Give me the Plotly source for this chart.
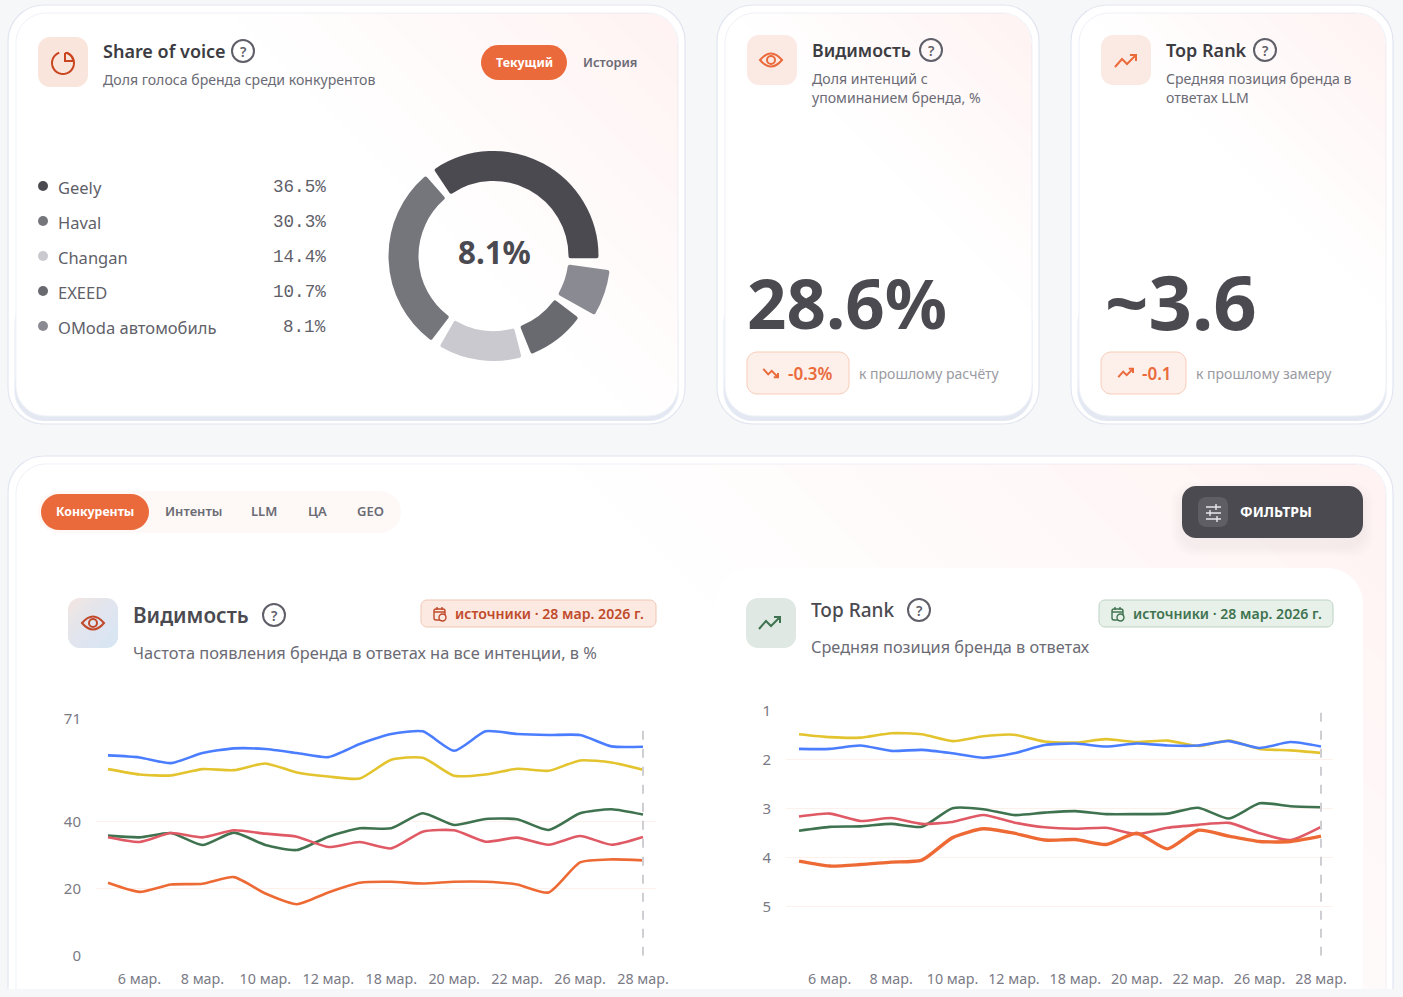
import math
import plotly.graph_objects as go

# ---------- data ----------
brands = ["Geely", "Haval", "Changan", "EXEED", "OModa автомобиль"]
share = [36.5, 30.3, 14.4, 10.7, 8.1]
share_labels = ["36.5%", "30.3%", "14.4%", "10.7%", "8.1%"]
share_colors = ["#4a4a50", "#75767c", "#c9c9cf", "#696a70", "#8a8a92"]

dates = ["5 мар.", "6 мар.", "7 мар.", "8 мар.", "9 мар.", "10 мар.", "11 мар.", "12 мар.", "17 мар.",
         "18 мар.", "19 мар.", "20 мар.", "21 мар.", "22 мар.", "25 мар.", "26 мар.", "27 мар.", "28 мар."]
tick_dates = dates[1::2]

vis_blue = [59.9, 59.3, 57.6, 60.6, 62.0, 61.8, 60.6, 59.4, 63.3, 66.3, 67.1, 61.3, 67.1, 66.3, 66.0, 66.0, 62.6, 62.5]
vis_yellow = [55.8, 54.2, 53.9, 55.8, 55.5, 57.5, 54.8, 53.6, 53.0, 58.6, 59.2, 53.8, 54.2, 55.9, 55.3, 58.4, 57.8, 55.6]
vis_green = [35.9, 35.4, 36.7, 33.1, 36.8, 33.1, 31.6, 35.6, 38.1, 38.1, 42.6, 39.1, 40.9, 40.8, 37.6, 42.6, 43.8, 42.2]
vis_red = [35.4, 34.0, 36.7, 35.4, 37.5, 36.5, 35.6, 32.5, 34.0, 32.1, 37.1, 37.5, 34.1, 35.3, 33.2, 35.8, 33.2, 35.5]
vis_orange = [21.8, 19.1, 21.3, 21.5, 23.5, 18.6, 15.4, 18.9, 21.8, 22.1, 21.6, 22.1, 22.1, 21.3, 18.9, 27.9, 28.8, 28.5]

rank_blue = [1.78, 1.78, 1.71, 1.82, 1.80, 1.87, 1.96, 1.87, 1.70, 1.67, 1.73, 1.67, 1.71, 1.71, 1.62, 1.76, 1.64, 1.73]
rank_yellow = [1.48, 1.54, 1.55, 1.46, 1.48, 1.62, 1.52, 1.49, 1.63, 1.65, 1.58, 1.64, 1.61, 1.72, 1.61, 1.78, 1.81, 1.86]
rank_green = [3.45, 3.37, 3.36, 3.31, 3.37, 2.99, 3.01, 3.13, 3.08, 3.05, 3.11, 3.11, 3.10, 2.98, 3.20, 2.89, 2.95, 2.97]
rank_red = [3.16, 3.10, 3.25, 3.19, 3.31, 3.27, 3.13, 3.28, 3.38, 3.41, 3.39, 3.52, 3.39, 3.33, 3.29, 3.50, 3.64, 3.37]
rank_orange = [4.07, 4.17, 4.14, 4.09, 4.05, 3.59, 3.41, 3.50, 3.64, 3.63, 3.73, 3.50, 3.82, 3.44, 3.56, 3.67, 3.67, 3.56]

# ---------- helpers ----------
W, H = 1403, 997
FONT = "Noto Sans"
MONO = "Liberation Mono"
ACCENT = "#ea6a3c"
DARK = "#4a4a50"
shapes, annos = [], []


def rr(x0, y0, x1, y1, r):
    k = r * 0.4477
    return (f"M{x0+r},{y0} L{x1-r},{y0} C{x1-k},{y0} {x1},{y0+k} {x1},{y0+r} L{x1},{y1-r} "
            f"C{x1},{y1-k} {x1-k},{y1} {x1-r},{y1} L{x0+r},{y1} C{x0+k},{y1} {x0},{y1-k} {x0},{y1-r} "
            f"L{x0},{y0+r} C{x0},{y0+k} {x0+k},{y0} {x0+r},{y0} Z")


def add_path(path, fill="rgba(0,0,0,0)", line="rgba(0,0,0,0)", width=0, layer="below"):
    shapes.append(dict(type="path", xref="x", yref="y", path=path, fillcolor=fill,
                       line=dict(color=line, width=width), layer=layer))


def box(x0, y0, x1, y1, r, fill, line="rgba(0,0,0,0)", width=0):
    add_path(rr(x0, y0, x1, y1, r), fill, line, width)


def poly(points, close=False):
    s = "M" + " L".join(f"{x:.2f},{y:.2f}" for x, y in points)
    return s + (" Z" if close else "")


def arc(cx, cy, r, a0, a1, n=28):
    return [(cx + r * math.sin(math.radians(a0 + (a1 - a0) * i / n)),
             cy - r * math.cos(math.radians(a0 + (a1 - a0) * i / n))) for i in range(n + 1)]


def rr_points(x0, y0, x1, y1, r):
    p = []
    p += arc(x1 - r, y0 + r, r, 0, 90, 10)
    p += arc(x1 - r, y1 - r, r, 90, 180, 10)
    p += arc(x0 + r, y1 - r, r, 180, 270, 10)
    p += arc(x0 + r, y0 + r, r, 270, 360, 10)
    return p


def clip(points, c, D, dirx=-0.7071, diry=0.7071):
    dot = lambda q: (q[0] - c[0]) * dirx + (q[1] - c[1]) * diry - D
    out = []
    for i, a in enumerate(points):
        b = points[(i + 1) % len(points)]
        da, db = dot(a), dot(b)
        if da <= 0:
            out.append(a)
        if da * db < 0:
            t = da / (da - db)
            out.append((a[0] + (b[0] - a[0]) * t, a[1] + (b[1] - a[1]) * t))
    return out


def tint(x0, y0, x1, y1, r, color="236,96,70", bands=12, alpha=0.0055, reach=0.42):
    base = rr_points(x0, y0, x1, y1, r)
    length = ((x1 - x0) + (y1 - y0)) * 0.7071
    for i in range(1, bands + 1):
        pts = clip(base, (x1, y0), length * reach * i / bands)
        if len(pts) > 2:
            add_path(poly(pts, True), f"rgba({color},{alpha})")


def T(x, y, text, size, color, weight=400, anchor="left", family=FONT):
    dx = -1 if anchor == "left" else 0
    annos.append(dict(xref="x", yref="y", x=x + dx, y=y - 0.7, text=text, showarrow=False, xanchor=anchor,
                      yanchor="middle", borderpad=0, font=dict(family=family, size=size, color=color, weight=weight)))


def panel(x0, y0, x1, y1, r=36, crescent=True):
    box(x0, y0, x1, y1, r, "#ffffff", "#e2e6f0", 1.2)
    if crescent:
        box(x0 + 6, y1 - 130, x1 - 6, y1 - 3, r - 6, "#f1f4f9")
        box(x0 + 7, y1 - 70, x1 - 7, y1 - 3, r - 6, "#e3e8f2")
    box(x0 + 8, y0 + 8, x1 - 7, y1 - 8, r - 6, "#ffffff", "#eef1f7", 1)
    tint(x0 + 8, y0 + 8, x1 - 7, y1 - 8, r - 6)


def helper(cx, cy, r=11):
    shapes.append(dict(type="circle", xref="x", yref="y", x0=cx - r, x1=cx + r, y0=cy - r, y1=cy + r,
                       line=dict(color="#5f5f69", width=2), fillcolor="rgba(0,0,0,0)", layer="below"))
    T(cx, cy + 0.7, "?", 14, "#5f5f69", 600, "center")


def eye(cx, cy, color):
    add_path(f"M{cx-11},{cy} Q{cx},{cy-13} {cx+11},{cy} Q{cx},{cy+13} {cx-11},{cy} Z", line=color, width=2)
    shapes.append(dict(type="circle", xref="x", yref="y", x0=cx - 4, x1=cx + 4, y0=cy - 4, y1=cy + 4,
                       line=dict(color=color, width=2), layer="below"))


def trend(cx, cy, color, s=1.0, down=False):
    sign = -1 if down else 1
    pts = [(-11, 6), (-4, -2), (1, 3), (10, -6)]
    add_path(poly([(cx + a * s, cy + sign * b * s) for a, b in pts]), line=color, width=2)
    head = [(4, -6), (10, -6), (10, 0)]
    add_path(poly([(cx + a * s, cy + sign * b * s) for a, b in head]), line=color, width=2)


def calendar(cx, cy, color, fill):
    add_path(rr(cx - 6, cy - 5, cx + 5, cy + 6, 2), line=color, width=1.4)
    add_path(f"M{cx-6},{cy-2} L{cx+5},{cy-2} M{cx-3},{cy-7} L{cx-3},{cy-4} M{cx+2},{cy-7} L{cx+2},{cy-4}", line=color, width=1.4)
    shapes.append(dict(type="circle", xref="x", yref="y", x0=cx - 1, x1=cx + 6, y0=cy, y1=cy + 7, fillcolor=fill,
                       line=dict(color=color, width=1.4), layer="below"))


# ---------- panels ----------
panel(8, 5, 685, 424)
panel(717, 5, 1039, 424)
panel(1071, 5, 1393, 424)
panel(8, 456, 1393, 1040, crescent=False)

# card 1
box(38, 37, 88, 87, 12, "#fae5dc")
add_path(poly(arc(63, 63, 11, 20, 340)), line="#c8451f", width=2)
add_path(poly([(65, 53)] + arc(65, 61, 8, 0, 90, 10) + [(65, 61), (65, 53)]), line="#c8451f", width=2)
T(103, 52, "Share of voice", 18, "#3c3c42", 600)
helper(243, 51)
T(103, 80, "Доля голоса бренда среди конкурентов", 14.1, "#6b6b75")
box(481, 45, 567, 80, 17.5, ACCENT)
T(524, 63, "Текущий", 12.4, "#ffffff", 700, "center")
T(610, 63, "История", 12.8, "#6b6b75", 600, "center")
for i, (b, lab, col) in enumerate(zip(brands, share_labels, share_colors)):
    y = 186 + 35 * i
    shapes.append(dict(type="circle", xref="x", yref="y", x0=38, x1=48, y0=y - 5, y1=y + 5, fillcolor=col,
                       line=dict(width=0), layer="below"))
    T(58, y + 2, b, 16.5, "#5f5f69")
    T(327, y + 2, lab, 17.6, "#5f5f69", 400, "right", MONO)
T(494, 253, "8.1%", 31.3, DARK, 700, "center")

# card 2
box(747, 35, 797, 85, 12, "#fbeae3")
eye(771, 60, ACCENT)
T(812, 51, "Видимость", 17.7, "#3c3c42", 600)
helper(931, 50)
T(812, 79, "Доля интенций с", 14.1, "#6b6b75")
T(812, 98, "упоминанием бренда, %", 14.1, "#6b6b75")
T(747, 303, "28.6%", 69, DARK, 700)
box(747, 352, 849, 394, 10, "#fdf0ea", "#f8ccb9", 1)
trend(771, 373, ACCENT, 0.7, True)
T(788, 374, "-0.3%", 17, ACCENT, 600)
T(859, 374, "к прошлому расчёту", 14, "#9a9aa2")

# card 3
box(1101, 35, 1151, 85, 12, "#fbeae3")
trend(1126, 61, ACCENT, 1.0)
T(1166, 51, "Top Rank", 18, "#3c3c42", 600)
helper(1265, 50)
T(1166, 79, "Средняя позиция бренда в", 14.1, "#6b6b75")
T(1166, 98, "ответах LLM", 14.1, "#6b6b75")
T(1258, 301, "~3.6", 76, DARK, 700, "right")
box(1101, 352, 1186, 394, 10, "#fdf0ea", "#f8ccb9", 1)
trend(1126, 373, ACCENT, 0.7)
T(1142, 374, "-0.1", 17, ACCENT, 600)
T(1196, 374, "к прошлому замеру", 14, "#9a9aa2")

# bottom header
box(38, 491, 401, 533, 21, "#fef9f6")
box(41, 494, 149, 530, 18, ACCENT)
T(95, 512, "Конкуренты", 12.3, "#ffffff", 700, "center")
for cx, lab in [(193, "Интенты"), (264, "LLM"), (317, "ЦА"), (370, "GEO")]:
    T(cx, 512, lab, 13, "#6b6b75", 600, "center")
for k in range(5):
    box(1182 - 10 + 2 * k, 486 - 4 + 2 * k, 1363 + 10 - 2 * k, 538 + 18 - 2 * k, 20, "rgba(74,74,80,0.012)")
box(1182, 486, 1363, 538, 14, DARK)
box(1198, 497, 1228, 527, 8, "#5e5e64")
add_path("M1206,507 L1221,507 M1206,513 L1221,513 M1206,519 L1221,519", line="#e8e8ea", width=1.4)
add_path("M1216,504 L1216,510 M1210,510 L1210,516 M1217,516 L1217,522", line="#e8e8ea", width=1.4)
T(1240, 512, "ФИЛЬТРЫ", 14, "#ffffff", 700)

# chart cards
box(38, 568, 688, 1040, 36, "#ffffff")
box(716, 568, 1363, 1040, 36, "#ffffff")

box(68, 598, 118, 648, 12, "#f7e5de")
base = rr_points(68, 598, 118, 648, 12)
for i in range(1, 13):
    pts = clip(base, (118, 648), 70 * i / 12, -0.7071, -0.7071)
    if len(pts) > 2:
        add_path(poly(pts, True), "rgba(205,240,252,0.11)")
eye(93, 623, "#c0492a")
T(133, 616, "Видимость", 20.7, "#4a4a50", 600)
helper(274, 615)
box(421, 600, 656, 627, 6, "#fbe9e2", "#f0c6b4", 1)
calendar(440, 614, "#c0492a", "#fbe9e2")
T(455, 614, "источники · 28 мар. 2026 г.", 14.1, "#c0492a", 600)
T(133, 653, "Частота появления бренда в ответах на все интенции, в %", 16.4, "#6b6b75")

box(746, 598, 796, 648, 12, "#dfe8e3")
trend(770, 623, "#3f7350", 1.0)
T(811, 611, "Top Rank", 19, "#4a4a50", 500)
helper(919, 610)
box(1099, 600, 1333, 627, 6, "#e8f0ea", "#bcd2c3", 1)
calendar(1118, 614, "#3f7350", "#e8f0ea")
T(1133, 614, "источники · 28 мар. 2026 г.", 14.1, "#3f7350", 600)
T(811, 648, "Средняя позиция бренда в ответах", 16.3, "#6b6b75")

# bottom strip of page background
shapes.append(dict(type="rect", xref="x", yref="y", x0=0, x1=W, y0=989, y1=H, fillcolor="#f6f7f8",
                   line=dict(width=0), layer="above"))

# ---------- figure ----------
fig = go.Figure()

# pixel canvas
fig.add_trace(go.Scatter(x=[0], y=[0], mode="markers", marker=dict(opacity=0), xaxis="x", yaxis="y",
                         hoverinfo="skip", showlegend=False))

line_colors = dict(blue="#4a7dff", yellow="#e3c42e", green="#3f7350", red="#e05a66", orange="#ee6a35")


def series(name, vals, col, ax, wid=2.6):
    fig.add_trace(go.Scatter(x=dates, y=vals, name=name, mode="lines", xaxis=f"x{ax}", yaxis=f"y{ax}",
                             line=dict(color=col, width=wid, shape="spline", smoothing=0.6), showlegend=False))


for ax, sets, owid in [
    (2, [("Changan", vis_green, "green"), ("EXEED", vis_red, "red"), ("Haval", vis_yellow, "yellow"),
         ("Geely", vis_blue, "blue"), ("OModa", vis_orange, "orange")], 2.6),
    (3, [("Changan", rank_green, "green"), ("EXEED", rank_red, "red"), ("Haval", rank_yellow, "yellow"),
         ("Geely", rank_blue, "blue"), ("OModa", rank_orange, "orange")], 3.4),
]:
    for name, vals, c in sets:
        series(name, vals, line_colors[c], ax, owid if c == "orange" else 2.6)

# donut: order clockwise from Geely, with padding slices between
order = [0, 4, 3, 2, 1]
GAP = 2.17
vals, cols, lines, focus_cols = [], [], [], []
for j, idx in enumerate(order):
    vals += [share[idx] - GAP, GAP]
    cols += [share_colors[idx] if idx != 4 else "rgba(0,0,0,0)", "rgba(0,0,0,0)"]
    focus_cols += [share_colors[idx] if idx == 4 else "rgba(0,0,0,0)", "rgba(0,0,0,0)"]
cx0, cy0 = 493.5, 256
Ro, Ri, Rf = 103, 77, 115


def donut(colors, R):
    fig.add_trace(go.Pie(values=vals, sort=False, direction="clockwise", rotation=-33.45, hole=Ri / R,
                         textinfo="none", hoverinfo="skip", showlegend=False,
                         marker=dict(colors=colors, line=dict(color=colors, width=4)),
                         domain=dict(x=[(cx0 - R) / W, (cx0 + R) / W], y=[1 - (cy0 + R) / H, 1 - (cy0 - R) / H])))


donut(cols, Ro)
donut(focus_cols, Rf)


def chart_axis(x0, x1, first, last, top, bottom):
    step = (last - first) / (len(dates) - 1)
    xa = dict(domain=[x0 / W, x1 / W], type="category", categoryorder="array", categoryarray=dates,
              range=[-(first - x0) / step, len(dates) - 1 + (x1 - last) / step], automargin=False,
              tickmode="array", tickvals=tick_dates, ticktext=tick_dates, showgrid=False, zeroline=False,
              showline=False, ticks="outside", ticklen=10, tickcolor="rgba(0,0,0,0)", tickangle=0,
              tickfont=dict(family=FONT, size=14.3, color="#7a7a85"))
    ya = dict(domain=[1 - bottom / H, 1 - top / H], showgrid=True, gridcolor="#fdf1ec", gridwidth=1, zeroline=False,
              showline=False, ticks="outside", ticklen=11, tickcolor="rgba(0,0,0,0)", automargin=False,
              tickfont=dict(family=FONT, size=15, color="#7a7a85"))
    return xa, ya


x2, y2 = chart_axis(96, 656, 108, 643, 718.3, 955.7)
y2.update(range=[0, 71], tickvals=[0, 20, 40, 71], ticktext=["0", "20", "40", "71"], anchor="x2")
x2.update(anchor="y2")
x3, y3 = chart_axis(786, 1333, 799, 1321, 710.7, 955.7)
y3.update(range=[6, 1], tickvals=[1, 2, 3, 4, 5, 6], ticktext=["1", "2", "3", "4", "5", " "], anchor="x3")
x3.update(anchor="y3")

shapes.append(dict(type="line", xref="x2", yref="y2", x0=dates[-1], x1=dates[-1], y0=0, y1=69.6,
                   line=dict(color="#cfcfd3", width=2, dash="dash"), layer="above"))
shapes.append(dict(type="line", xref="x3", yref="y3", x0=dates[-1], x1=dates[-1], y0=6, y1=1,
                   line=dict(color="#cfcfd3", width=2, dash="dash"), layer="above"))

fig.update_layout(
    template="none",
    width=W, height=H, autosize=False, margin=dict(l=0, r=0, t=0, b=0, pad=0),
    paper_bgcolor="#f6f7f8", plot_bgcolor="rgba(0,0,0,0)", showlegend=False,
    font=dict(family=FONT),
    xaxis=dict(domain=[0, 1], range=[0, W], visible=False, fixedrange=True, automargin=False),
    yaxis=dict(domain=[0, 1], range=[H, 0], visible=False, fixedrange=True, automargin=False),
    xaxis2=x2, yaxis2=y2, xaxis3=x3, yaxis3=y3,
    shapes=shapes, annotations=annos,
)

post = """
document.body.style.margin='0';
document.body.style.overflow='hidden';
document.querySelectorAll('.slice path').forEach(function(p){p.style.strokeLinejoin='round';});
"""
fig.write_html("out.html", post_script=post, config=dict(displayModeBar=False))
